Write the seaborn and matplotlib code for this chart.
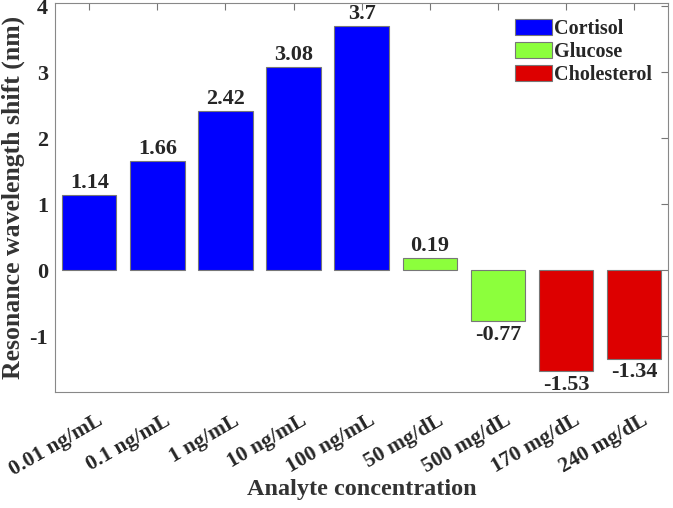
import matplotlib
matplotlib.use("Agg")
import matplotlib.pyplot as plt
import matplotlib.transforms as mtransforms
import seaborn as sns
import pandas as pd

categories = ["0.01 ng/mL", "0.1 ng/mL", "1 ng/mL", "10 ng/mL", "100 ng/mL",
              "50 mg/dL", "500 mg/dL", "170 mg/dL", "240 mg/dL"]
values = [1.14, 1.66, 2.42, 3.08, 3.7, 0.19, -0.77, -1.53, -1.34]
analytes = ["Cortisol"] * 5 + ["Glucose"] * 2 + ["Cholesterol"] * 2
value_labels = ["1.14", "1.66", "2.42", "3.08", "3.7", "0.19", "-0.77", "-1.53", "-1.34"]
palette = {"Cortisol": "#0000FF", "Glucose": "#8CFF3C", "Cholesterol": "#DD0000"}

df = pd.DataFrame({"cat": categories, "val": values, "analyte": analytes})

sns.set_style("white")
plt.rcParams["font.family"] = ["Liberation Serif", "DejaVu Serif"]
plt.rcParams["font.weight"] = "bold"

fig = plt.figure(figsize=(6.73, 5.08), dpi=100)
ax = fig.add_axes([0.082, 0.228, 0.911, 0.766])

sns.barplot(data=df, x="cat", y="val", hue="analyte", order=categories,
            hue_order=["Cortisol", "Glucose", "Cholesterol"], palette=palette,
            dodge=False, width=0.8, edgecolor="#777777", linewidth=0.8,
            saturation=1, ax=ax)

for container in ax.containers:
    for bar in container:
        h = bar.get_height()
        if bar.get_width() == 0 or h != h:
            continue
        idx = int(round(bar.get_x() + bar.get_width() / 2))
        x = bar.get_x() + bar.get_width() / 2
        if h >= 0:
            ax.text(x, h + 0.03, value_labels[idx], ha="center", va="bottom",
                    fontsize=16, fontweight="bold")
        else:
            ax.text(x, h - 0.06, value_labels[idx], ha="center", va="top",
                    fontsize=16, fontweight="bold")

ax.set_xlim(-0.5, 8.5)
ax.set_ylim(-1.85, 4.05)
ax.set_yticks([-1, 0, 1, 2, 3, 4])
ax.set_yticklabels(["-1", "0", "1", "2", "3", "4"])
ax.set_xticks(range(len(categories)))
ax.set_xticklabels(categories, rotation=30, ha="right", rotation_mode="anchor")
ax.tick_params(axis="both", which="both", direction="in", length=5,
               top=True, right=True, labelsize=16, color="#777777")
ax.tick_params(axis="x", pad=9, labelsize=15.5)
ax.tick_params(axis="y", pad=5)
shift = mtransforms.ScaledTranslation(0.07, -0.06, fig.dpi_scale_trans)
for lbl in ax.get_xticklabels():
    lbl.set_fontweight("bold")
    lbl.set_transform(lbl.get_transform() + shift)
for lbl in ax.get_yticklabels():
    lbl.set_fontweight("bold")
for s in ax.spines.values():
    s.set_color("#888888")
    s.set_linewidth(0.8)

ax.set_xlabel("Analyte concentration", fontsize=17.5, fontweight="bold", color="#333333")
ax.xaxis.set_label_coords(0.5, -0.222)
ax.set_ylabel("Resonance wavelength shift (nm)", fontsize=18.5, fontweight="bold", color="#333333", labelpad=3)

leg = ax.legend(loc="upper right", fontsize=14.5, frameon=False,
                handlelength=1.85, handleheight=0.8,
                borderpad=0.3, labelspacing=0.15, handletextpad=0.1,
                borderaxespad=0.5)
for t in leg.get_texts():
    t.set_fontweight("bold")

fig.savefig("out.png", dpi=100)
